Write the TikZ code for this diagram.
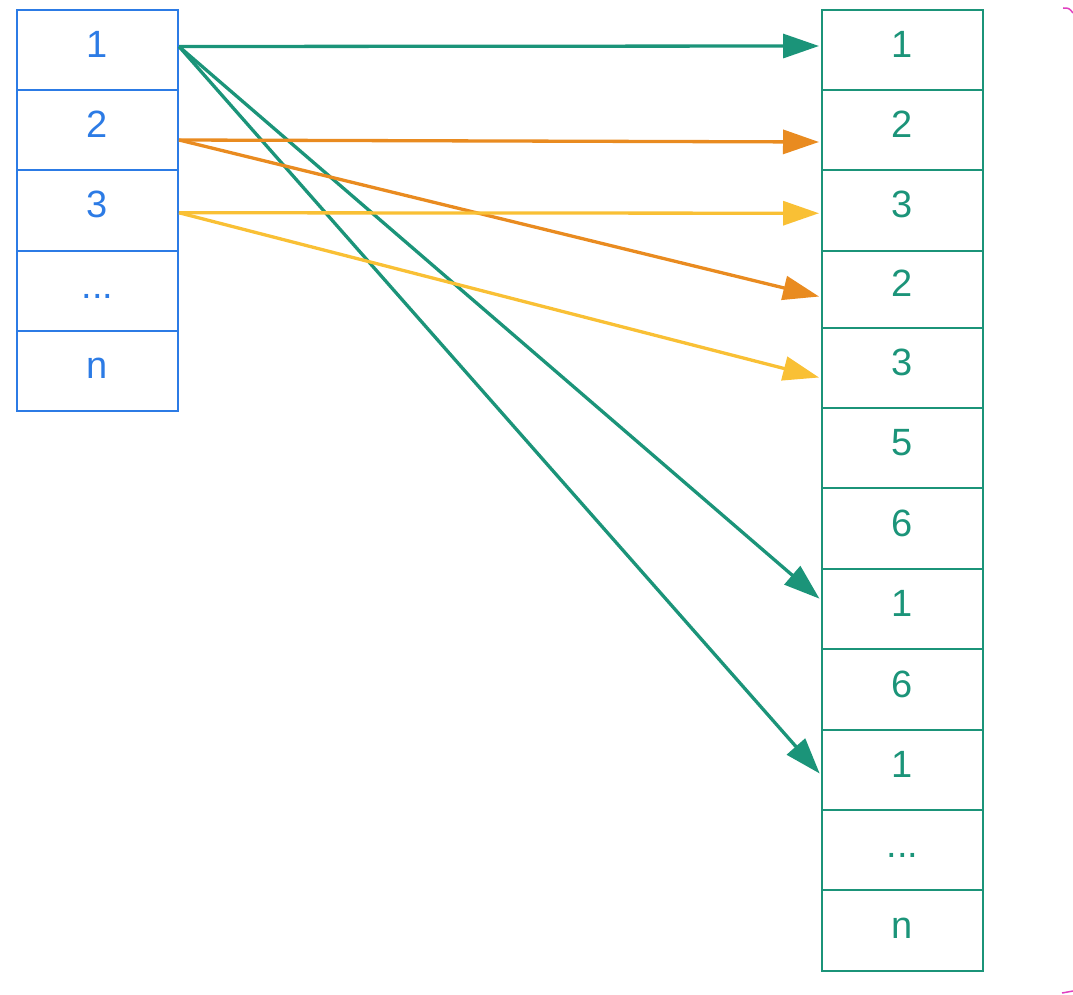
\documentclass[tikz,border=0pt]{standalone}
\usepackage{fontspec}
\setmainfont{Liberation Sans}
\usetikzlibrary{arrows.meta}
\definecolor{cblue}{HTML}{2C7BE5}
\definecolor{cteal}{HTML}{1B9479}
\definecolor{corange}{HTML}{E98B20}
\definecolor{cyellow}{HTML}{F9C035}
\definecolor{cmagenta}{HTML}{E040C0}
\begin{document}
\begin{tikzpicture}[x=1pt,y=-1pt,
  cell/.style={draw, line width=2pt, rectangle, minimum width=161pt, inner sep=0pt,
    text height=30pt, text depth=15pt, font=\fontsize{38}{40}\selectfont},
  lcell/.style={cell, draw=cblue, text=cblue},
  rcell/.style={cell, draw=cteal, text=cteal},
  link/.style={line width=3.3pt, -{Triangle[length=36pt,width=24pt]}, shorten >=2pt}]
\useasboundingbox (0,0) rectangle (1073,995);
% left column
\node[lcell, minimum height=80pt]   (L1) at (97.5,50)     {1};
\node[lcell, minimum height=80pt]   (L2) at (97.5,130)    {2};
\node[lcell, minimum height=80.5pt] (L3) at (97.5,210.25) {3};
\node[lcell, minimum height=80.5pt] (L4) at (97.5,290.75) {...};
\node[lcell, minimum height=80pt]   (L5) at (97.5,371)    {n};
% right column
\node[rcell, minimum height=80pt]   (R1)  at (902.5,50)     {1};
\node[rcell, minimum height=80pt]   (R2)  at (902.5,130)    {2};
\node[rcell, minimum height=80.5pt] (R3)  at (902.5,210.25) {3};
\node[rcell, minimum height=77pt]   (R4)  at (902.5,289)    {2};
\node[rcell, minimum height=80pt]   (R5)  at (902.5,367.5)  {3};
\node[rcell, minimum height=80.5pt] (R6)  at (902.5,447.75) {5};
\node[rcell, minimum height=81pt]   (R7)  at (902.5,528.5)  {6};
\node[rcell, minimum height=80pt]   (R8)  at (902.5,609)    {1};
\node[rcell, minimum height=81pt]   (R9)  at (902.5,689.5)  {6};
\node[rcell, minimum height=80pt]   (R10) at (902.5,770)    {1};
\node[rcell, minimum height=80pt]   (R11) at (902.5,850)    {...};
\node[rcell, minimum height=81pt]   (R12) at (902.5,930.5)  {n};
% connectors
\draw[link, cteal] ([yshift=3.5pt]L1.east) -- ([yshift=4pt]R1.west);
\draw[link, cteal] ([yshift=3.5pt]L1.east) -- ([yshift=9pt]R8.west);
\draw[link, cteal] ([yshift=3.5pt]L1.east) -- ([yshift=-5pt]R10.west);
\draw[link, corange] ([yshift=-10pt]L2.east) -- ([yshift=-12pt]R2.west);
\draw[link, corange] ([yshift=-10pt]L2.east) -- ([yshift=-8pt]R4.west);
\draw[link, cyellow] ([yshift=-2.5pt]L3.east) -- ([yshift=-3pt]R3.west);
\draw[link, cyellow] ([yshift=-2.5pt]L3.east) -- ([yshift=-10.5pt]R5.west);
% corner marks
\coordinate (m1) at (1063,8);
\coordinate (m2) at (1073,13);
\coordinate (m3) at (1062,993);
\coordinate (m4) at (1073,991);
\draw[cmagenta, line width=1.5pt] (m1) .. controls (1069,8) .. (m2);
\draw[cmagenta, line width=1.5pt] (m3) -- (m4);
\end{tikzpicture}
\end{document}
